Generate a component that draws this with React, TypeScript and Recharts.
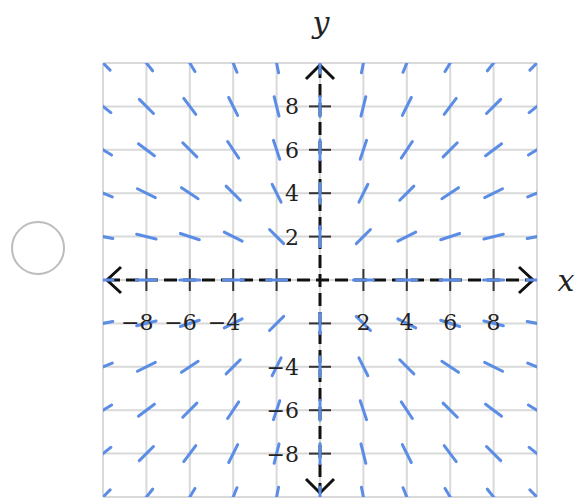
import React from 'react';
import { ScatterChart, Scatter, XAxis, YAxis, ReferenceLine } from 'recharts';

// grid lines every 2 units
const gridValues = [-10, -8, -6, -4, -2, 0, 2, 4, 6, 8, 10];

// slope field sample points (columns = x, rows = y)
const fieldX = [-10, -8, -6, -4, -2, 0, 2, 4, 6, 8, 10];
const fieldY = [10, 8, 6, 4, 2, 0, -2, -4, -6, -8, -10];

// slope read at each point, V = vertical, null = nothing drawn
const V = Infinity;
const slopeRows: (number | null)[][] = [
  [-1, -1.25, -1.67, -2.5, -5, V, 5, 2.5, 1.67, 1.25, 1],
  [-0.8, -1, -1.33, -2, -4, V, 4, 2, 1.33, 1, 0.8],
  [-0.6, -0.75, -1, -1.5, -3, V, 3, 1.5, 1, 0.75, 0.6],
  [-0.4, -0.5, -0.67, -1, -2, V, 2, 1, 0.67, 0.5, 0.4],
  [-0.2, -0.25, -0.33, -0.5, -1, V, 1, 0.5, 0.33, 0.25, 0.2],
  [0, 0, 0, 0, 0, null, 0, 0, 0, 0, 0],
  [0.2, 0.25, 0.33, 0.5, 1, V, -1, -0.5, -0.33, -0.25, -0.2],
  [0.4, 0.5, 0.67, 1, 2, V, -2, -1, -0.67, -0.5, -0.4],
  [0.6, 0.75, 1, 1.5, 3, V, -3, -1.5, -1, -0.75, -0.6],
  [0.8, 1, 1.33, 2, 4, V, -4, -2, -1.33, -1, -0.8],
  [1, 1.25, 1.67, 2.5, 5, V, -5, -2.5, -1.67, -1.25, -1],
];

const xTickValues = [-8, -6, -4, -2, 2, 4, 6, 8];
const xTickLabels = ['−8', '−6', '−4', '', '2', '4', '6', '8'];
const yTickValues = [8, 6, 4, 2, -2, -4, -6, -8];
const yTickLabels = ['8', '6', '4', '2', '', '−4', '−6', '−8'];

const fieldData = fieldY
  .flatMap((y, r) => fieldX.map((x, c) => ({ x, y, slope: slopeRows[r][c] })))
  .filter((d) => d.slope !== null);

const xTickData = xTickValues.map((x, i) => ({ x, y: 0, label: xTickLabels[i] }));
const yTickData = yTickValues.map((y, i) => ({ x: 0, y, label: yTickLabels[i] }));

const BLUE = '#5b8de6';
const INK = '#111';
const FONT = '"DejaVu Serif", "Liberation Serif", serif';

const SlopeMark = (props: any) => {
  const { cx, cy, payload } = props;
  const a = Math.atan(payload.slope);
  const dx = 10 * Math.cos(a);
  const dy = 10 * Math.sin(a);
  return (
    <line x1={cx - dx} y1={cy + dy} x2={cx + dx} y2={cy - dy}
      stroke={BLUE} strokeWidth={3} strokeLinecap="round" />
  );
};

const XTickMark = (props: any) => (
  <line x1={props.cx} y1={props.cy - 11} x2={props.cx} y2={props.cy + 11} stroke="#333" strokeWidth={2} />
);
const YTickMark = (props: any) => (
  <line x1={props.cx - 11} y1={props.cy} x2={props.cx + 11} y2={props.cy} stroke="#333" strokeWidth={2} />
);

const XTickText = (props: any) => (
  <text x={props.cx + 7} y={props.cy + 50} textAnchor="end" fontFamily={FONT} fontSize={22} fill="#222">
    {props.payload.label}
  </text>
);
const YTickText = (props: any) => (
  <text x={props.cx - 21} y={props.cy + 8} textAnchor="end" fontFamily={FONT} fontSize={22} fill="#222">
    {props.payload.label}
  </text>
);

const HAxis = (props: any) => {
  const { x1, x2, y1 } = props;
  const a = x1 + 4;
  const b = x2 - 4;
  return (
    <g>
      <line x1={a} y1={y1} x2={b} y2={y1} stroke={INK} strokeWidth={3} strokeDasharray="13 6" />
      <polyline points={`${a + 14},${y1 - 13} ${a},${y1} ${a + 14},${y1 + 13}`} fill="none" stroke={INK} strokeWidth={3} />
      <polyline points={`${b - 14},${y1 - 13} ${b},${y1} ${b - 14},${y1 + 13}`} fill="none" stroke={INK} strokeWidth={3} />
      <text x={x2 + 29} y={y1 + 11} textAnchor="middle" fontFamily={FONT} fontStyle="italic" fontSize={30} fill="#222">x</text>
    </g>
  );
};

const VAxis = (props: any) => {
  const { x1, y1, y2 } = props;
  const top = Math.min(y1, y2) + 2;
  const bot = Math.max(y1, y2) - 4;
  return (
    <g>
      <line x1={x1} y1={top} x2={x1} y2={bot} stroke={INK} strokeWidth={3} strokeDasharray="13 6" />
      <polyline points={`${x1 - 14},${top + 14} ${x1},${top} ${x1 + 14},${top + 14}`} fill="none" stroke={INK} strokeWidth={3} />
      <polyline points={`${x1 - 14},${bot - 14} ${x1},${bot} ${x1 + 14},${bot - 14}`} fill="none" stroke={INK} strokeWidth={3} />
      <text x={x1 + 1} y={top - 32} textAnchor="middle" fontFamily={FONT} fontStyle="italic" fontSize={30} fill="#222">y</text>
    </g>
  );
};

export default function App() {
  return (
    <div style={{ position: 'fixed', left: 0, top: 0, width: 584, height: 498, background: '#fff', overflow: 'hidden' }}>
      <div style={{
        position: 'absolute', left: 11, top: 221, width: 54, height: 54, boxSizing: 'border-box',
        borderRadius: '50%', border: '2px solid #bcbcbc',
      }} />
      <ScatterChart width={584} height={498} margin={{ top: 63, right: 47, bottom: 1, left: 103 }}>
        <XAxis type="number" dataKey="x" domain={[-10, 10]} allowDataOverflow hide />
        <YAxis type="number" dataKey="y" domain={[-10, 10]} allowDataOverflow hide />
        {gridValues.map((v) => (
          <ReferenceLine key={`gx${v}`} x={v} stroke="#d9d9d9" strokeWidth={2} zIndex={0} />
        ))}
        {gridValues.map((v) => (
          <ReferenceLine key={`gy${v}`} y={v} stroke="#d9d9d9" strokeWidth={2} zIndex={0} />
        ))}
        <ReferenceLine y={0} shape={HAxis} zIndex={10} />
        <ReferenceLine x={0} shape={VAxis} zIndex={10} />
        <Scatter data={xTickData} shape={XTickMark} isAnimationActive={false} zIndex={20} />
        <Scatter data={yTickData} shape={YTickMark} isAnimationActive={false} zIndex={20} />
        <Scatter data={fieldData} shape={SlopeMark} isAnimationActive={false} zIndex={30} />
        <Scatter data={xTickData} shape={XTickText} isAnimationActive={false} zIndex={40} />
        <Scatter data={yTickData} shape={YTickText} isAnimationActive={false} zIndex={40} />
      </ScatterChart>
    </div>
  );
}
